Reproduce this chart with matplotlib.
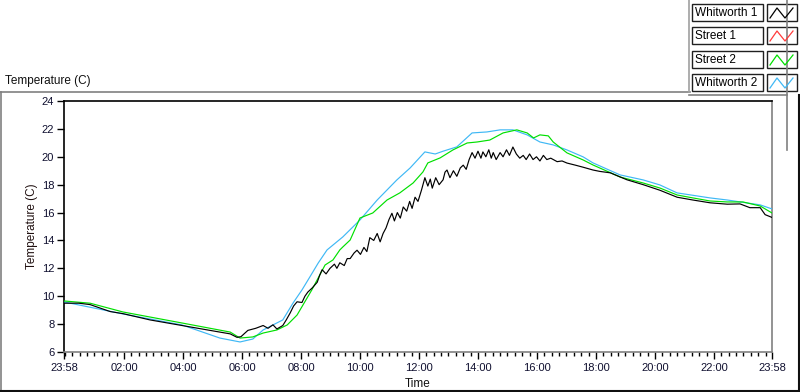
import matplotlib
matplotlib.use("Agg")
import matplotlib.pyplot as plt
from matplotlib.lines import Line2D
from matplotlib.patches import Rectangle
from matplotlib.ticker import FixedLocator

plt.rcParams['font.family'] = ['Liberation Sans', 'DejaVu Sans']

# ---- data (minutes after 23:58, temperature in C) ----
series_names = ["Whitworth 1", "Street 1", "Street 2", "Whitworth 2"]
series_colors = ["#000000", "#ff3b3b", "#00e000", "#3fb8f5"]

w1_t = [0, 30, 53, 94, 120, 175, 240, 297, 338, 352, 360, 374, 390, 405, 415, 425, 433, 445,
        452, 460, 467, 474, 484, 490, 496, 505, 515, 520, 525, 533, 541, 550, 555, 561, 570,
        576, 582, 590, 596, 603, 610, 616, 622, 630, 637, 643, 649, 655, 661, 667, 672, 678,
        684, 690, 697, 703, 708, 714, 720, 727, 734, 740, 745, 749, 756, 763, 771, 775, 779,
        785, 792, 799, 806, 812, 818, 824, 830, 836, 842, 848, 852, 858, 864, 869, 873, 879,
        887, 893, 900, 906, 913, 920, 927, 934, 940, 947, 954, 961, 968, 975, 982, 990, 1003,
        1013, 1023, 1040, 1056, 1076, 1090, 1111, 1145, 1178, 1212, 1247, 1279, 1314, 1349,
        1375, 1395, 1416, 1426, 1440]
w1_v = [9.5, 9.5, 9.4, 8.9, 8.75, 8.3, 7.9, 7.55, 7.3, 7.05, 7.1, 7.55, 7.7, 7.9, 7.7, 7.95,
        7.65, 7.9, 8.3, 8.8, 9.3, 9.6, 9.55, 10.0, 10.3, 10.6, 11.0, 11.5, 11.9, 11.6, 12.0,
        12.3, 12.0, 12.4, 12.2, 12.7, 12.7, 13.1, 13.3, 13.0, 13.5, 13.2, 14.2, 14.0, 14.5,
        13.9, 14.5, 14.9, 15.5, 15.95, 15.4, 16.0, 15.6, 16.4, 16.1, 16.8, 16.3, 17.1, 16.8,
        17.6, 18.5, 17.9, 18.4, 17.75, 18.5, 18.0, 18.35, 18.9, 19.05, 18.5, 19.0, 18.6, 19.2,
        19.4, 19.1, 19.8, 20.3, 19.9, 20.4, 19.9, 20.35, 20.0, 20.5, 19.9, 20.3, 19.8, 20.3,
        20.0, 20.5, 20.1, 20.7, 20.2, 19.9, 20.1, 19.8, 20.2, 19.8, 20.0, 19.7, 20.1, 19.8,
        19.9, 19.65, 19.7, 19.55, 19.4, 19.25, 19.05, 18.95, 18.85, 18.35, 18.0, 17.6, 17.1,
        16.9, 16.7, 16.6, 16.62, 16.35, 16.35, 15.85, 15.65]

s1_t = []
s1_v = []

s2_t = [0, 53, 120, 240, 338, 358, 384, 405, 433, 454, 474, 486, 504, 517, 531, 547, 561, 567,
        582, 602, 628, 657, 683, 710, 730, 740, 765, 791, 820, 840, 866, 893, 921, 942, 955,
        968, 985, 995, 1023, 1056, 1076, 1131, 1178, 1212, 1247, 1279, 1314, 1349, 1381, 1416,
        1440]
s2_v = [9.66, 9.5, 8.87, 8.08, 7.43, 7.0, 7.08, 7.36, 7.58, 7.94, 8.65, 9.37, 10.45, 11.31,
        12.24, 12.6, 13.32, 13.53, 14.03, 15.61, 15.97, 16.9, 17.41, 18.12, 18.91, 19.56, 19.92,
        20.49, 20.99, 21.06, 21.2, 21.71, 21.93, 21.71, 21.35, 21.57, 21.5, 21.06, 20.28, 19.77,
        19.41, 18.55, 18.12, 17.76, 17.26, 17.05, 16.83, 16.76, 16.76, 16.47, 15.97]

w2_t = [0, 120, 240, 317, 358, 384, 405, 425, 445, 466, 484, 500, 517, 535, 567, 602, 637, 677,
        704, 734, 755, 771, 799, 830, 860, 887, 913, 942, 968, 995, 1023, 1056, 1076, 1131, 1178,
        1212, 1247, 1314, 1349, 1416, 1440]
w2_v = [9.59, 8.73, 7.94, 7.0, 6.72, 6.93, 7.58, 7.94, 8.3, 9.52, 10.45, 11.38, 12.38, 13.32,
        14.25, 15.47, 16.9, 18.34, 19.2, 20.35, 20.2, 20.4, 20.71, 21.71, 21.78, 21.93, 21.93,
        21.57, 21.06, 20.85, 20.49, 19.99, 19.56, 18.7, 18.34, 17.98, 17.41, 17.05, 16.9, 16.55,
        16.26]

x_tick_pos = [0, 122, 242, 362, 482, 602, 722, 842, 962, 1082, 1202, 1322, 1440]
x_tick_labels = ["23:58", "02:00", "04:00", "06:00", "08:00", "10:00", "12:00", "14:00",
                 "16:00", "18:00", "20:00", "22:00", "23:58"]
y_ticks = [6, 8, 10, 12, 14, 16, 18, 20, 22, 24]

# ---- figure ----
W, H = 800, 392
fig = plt.figure(figsize=(W / 100, H / 100), dpi=100)
fig.patch.set_facecolor("white")


def fx(x):
    return x / W


def fy(y):
    return 1 - y / H


ax = fig.add_axes([fx(64), fy(352), (772 - 64) / W, (352 - 101) / H])

data = [(w1_t, w1_v), (s1_t, s1_v), (s2_t, s2_v), (w2_t, w2_v)]
order = [3, 2, 1, 0]
for i in order:
    t, v = data[i]
    ax.plot(t, v, color=series_colors[i], lw=0.85, zorder=3 + (3 - i))

ax.set_xlim(0, 1440)
ax.set_ylim(6, 24)
ax.set_xticks(x_tick_pos)
ax.set_xticklabels(x_tick_labels)
ax.xaxis.set_minor_locator(FixedLocator([m for m in range(2, 1440, 15)]))
ax.set_yticks(y_ticks)
ax.set_yticklabels([str(v) for v in y_ticks])

ax.tick_params(axis='x', which='major', length=5, width=1, color='black', pad=3,
               labelsize=8, labelcolor='#101030')
ax.tick_params(axis='x', which='minor', length=3, width=1, color='black')
ax.tick_params(axis='y', which='major', length=5, width=1, color='black', pad=2,
               labelsize=8, labelcolor='#101030')

for side, col in [('left', 'black'), ('top', 'black'), ('right', '#808080'),
                  ('bottom', '#808080')]:
    ax.spines[side].set_color(col)
    ax.spines[side].set_linewidth(1.2)

ax.set_xlabel("Time", fontsize=8.5, color='#101010')
ax.xaxis.set_label_coords(0.5, -0.105)
ax.set_ylabel("Temperature (C)", fontsize=8.5, color='#201010')
ax.yaxis.set_label_coords(-0.037, 0.5)

fig.text(fx(5), fy(81), "Temperature (C)", fontsize=8.5, va='center', ha='left',
         color='#101010')

# ---- frame lines (decorative, in figure pixels) ----
def hline(x0, x1, y, col, lw=1.2):
    fig.add_artist(Line2D([fx(x0), fx(x1)], [fy(y), fy(y)], color=col, lw=lw))


def vline(x, y0, y1, col, lw=1.2):
    fig.add_artist(Line2D([fx(x), fx(x)], [fy(y0), fy(y1)], color=col, lw=lw))


hline(0, 690, 92, '#808080')
vline(1, 92, 391, '#808080')
hline(0, 800, 390.5, '#101010', 1.5)
vline(799, 95, 392, '#101010', 1.5)
vline(689, 0, 92, '#a0a0a0')
hline(689, 787, 95, '#808080')
vline(787, 0, 150, '#808080')

# ---- legend ----
row_tops = [4, 27, 51, 74]
for i, name in enumerate(series_names):
    top = row_tops[i]
    h = 17
    fig.add_artist(Rectangle((fx(692), fy(top + h)), 71 / W, h / H, fill=False,
                             edgecolor='#202020', lw=1.0))
    fig.text(fx(695), fy(top + h / 2 + 0.5), name, fontsize=8.5, va='center', ha='left',
             color='black')
    fig.add_artist(Rectangle((fx(767), fy(top + h)), 30 / W, h / H, fill=False,
                             edgecolor='#202020', lw=1.0))
    xs = [770, 777, 785, 793]
    ys = [top + 14, top + 4, top + 14, top + 4]
    fig.add_artist(Line2D([fx(x) for x in xs], [fy(y) for y in ys], color=series_colors[i],
                          lw=0.9))

fig.savefig("out.png", dpi=100)
